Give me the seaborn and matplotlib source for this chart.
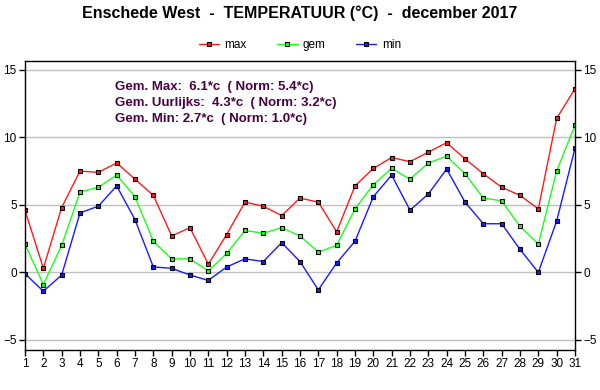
import seaborn as sns
import matplotlib.pyplot as plt
import pandas as pd

days = list(range(1, 32))
t_max = [4.6, 0.3, 4.8, 7.5, 7.4, 8.1, 6.9, 5.7, 2.7, 3.3, 0.6, 2.8, 5.2, 4.9, 4.2, 5.5,
         5.2, 3.0, 6.4, 7.7, 8.5, 8.2, 8.9, 9.6, 8.4, 7.3, 6.3, 5.7, 4.7, 11.4, 13.6]
t_gem = [2.1, -0.9, 2.0, 5.95, 6.3, 7.2, 5.6, 2.3, 1.0, 1.0, 0.1, 1.4, 3.1, 2.9, 3.3, 2.7,
         1.5, 2.0, 4.7, 6.5, 7.7, 6.9, 8.1, 8.6, 7.3, 5.5, 5.3, 3.4, 2.1, 7.5, 10.9]
t_min = [-0.1, -1.4, -0.2, 4.4, 4.9, 6.4, 3.9, 0.4, 0.3, -0.2, -0.6, 0.4, 1.0, 0.8, 2.2, 0.8,
         -1.3, 0.7, 2.3, 5.6, 7.2, 4.6, 5.8, 7.65, 5.2, 3.6, 3.6, 1.7, 0.0, 3.8, 9.2]
series = ["max", "gem", "min"]
colors = {"max": "#ff1a1a", "gem": "#1aff1a", "min": "#1a1aff"}
info = ["Gem. Max:  6.1*c  ( Norm: 5.4*c)",
        "Gem. Uurlijks:  4.3*c  ( Norm: 3.2*c)",
        "Gem. Min: 2.7*c  ( Norm: 1.0*c)"]

df = pd.DataFrame({"dag": days, "max": t_max, "gem": t_gem, "min": t_min})
long = df.melt(id_vars="dag", value_vars=series, var_name="reeks", value_name="temp")

sns.set_theme(style="white", rc={"text.color": "black", "xtick.color": "black",
                                 "ytick.color": "black"})
plt.rcParams["font.family"] = ["Liberation Sans", "DejaVu Sans"]

fig = plt.figure(figsize=(6, 3.9), dpi=100)
ax = fig.add_axes([25 / 600, 40 / 390, 550 / 600, 289 / 390])

for s in series:
    sns.lineplot(data=long[long.reeks == s], x="dag", y="temp", ax=ax, color=colors[s],
                 marker="s", markersize=3.4, markeredgecolor="black", markeredgewidth=0.8,
                 linewidth=1, label=s, legend=False)

ax.set_xlim(1, 31)
ax.set_ylim(-5.75, 15.65)
ax.set_xticks(days)
ax.set_yticks([-5, 0, 5, 10, 15])
ax.yaxis.grid(True, color="#c0c0c0", linewidth=1)
ax.set_axisbelow(True)
ax.set_xlabel("")
ax.set_ylabel("")
for sp in ax.spines.values():
    sp.set_color("black")
    sp.set_linewidth(1)
ax.tick_params(axis="both", direction="out", length=4, width=1, color="black",
               labelsize=8.5, pad=2, left=True, bottom=True)
ax.tick_params(axis="y", right=True, labelright=True)

for i, t in enumerate(info):
    ax.text(0.164, 0.911 - i * 0.0555, t, transform=ax.transAxes, fontsize=9.5,
            fontweight="bold", color="#4b0046", va="center")

handles, labels = ax.get_legend_handles_labels()
fig.legend(handles, labels, loc="center", bbox_to_anchor=(0.5, 1 - 45 / 390), ncol=3,
           frameon=False, fontsize=8.5, handlelength=1.7, columnspacing=2.6,
           handletextpad=0.45)

fig.suptitle("Enschede West  -  TEMPERATUUR (°C)  -  december 2017", y=1 - 13 / 390,
             fontsize=11.5, fontweight="bold", va="center")

fig.savefig("out.png", dpi=100)
